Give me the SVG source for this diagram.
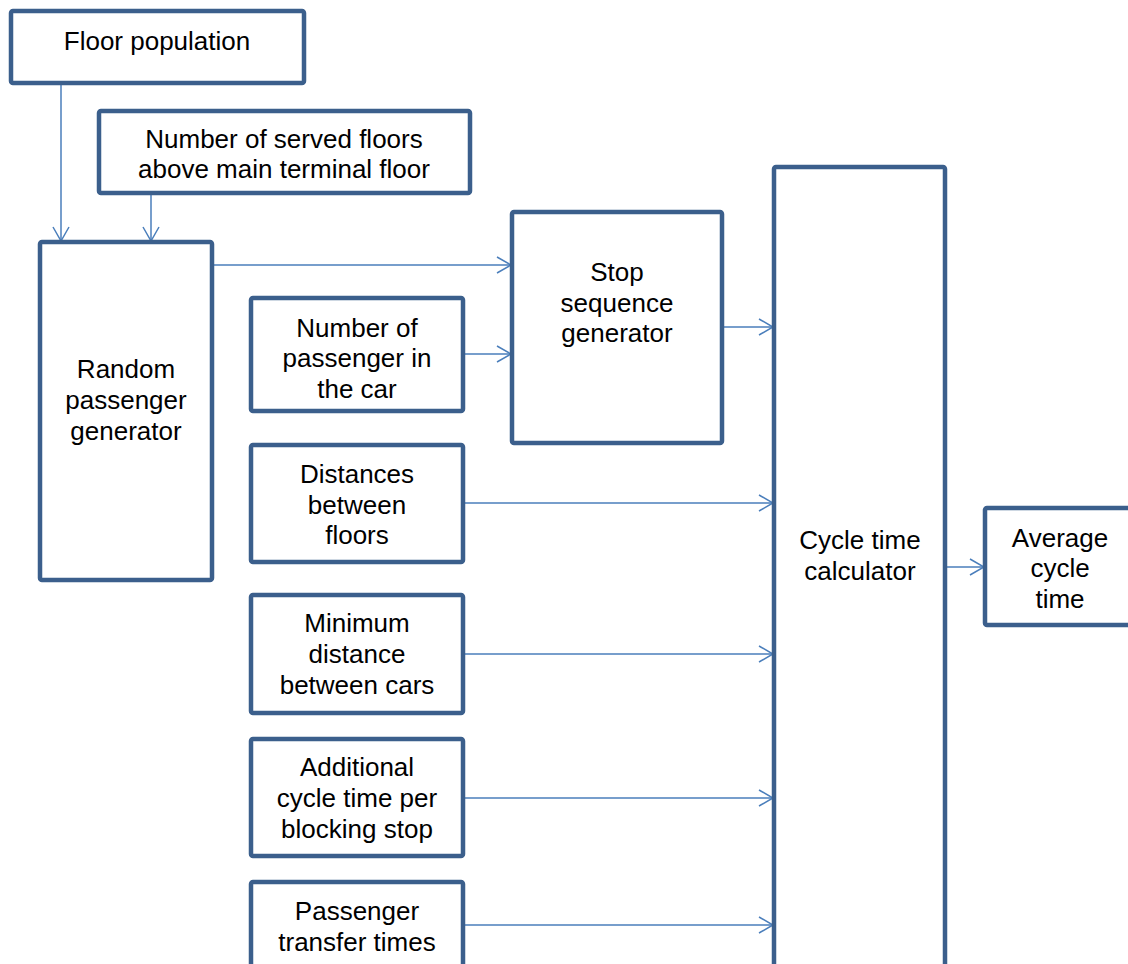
<svg xmlns="http://www.w3.org/2000/svg" width="1128" height="964" viewBox="0 0 1128 964">
<style>
.box{fill:#fff;stroke:#3b5f8c;stroke-width:4.5}
.t{font-family:"Liberation Sans",Arial,sans-serif;font-size:26px;fill:#000;text-anchor:middle}
.c{stroke:#4a7ebb;stroke-width:1.5;fill:none}
</style>
<defs>
<marker id="a" markerWidth="16" markerHeight="18" refX="15" refY="9" orient="auto" markerUnits="userSpaceOnUse">
<path d="M1,1 L15,9 L1,17" fill="none" stroke="#4a7ebb" stroke-width="1.5"/>
</marker>
</defs>
<g id="connectors">
<line class="c" x1="61" y1="83" x2="61" y2="241" marker-end="url(#a)"/>
<line class="c" x1="151" y1="194" x2="151" y2="241" marker-end="url(#a)"/>
<line class="c" x1="212" y1="265" x2="511" y2="265" marker-end="url(#a)"/>
<line class="c" x1="463" y1="354" x2="511" y2="354" marker-end="url(#a)"/>
<line class="c" x1="722" y1="327" x2="773" y2="327" marker-end="url(#a)"/>
<line class="c" x1="463" y1="503" x2="773" y2="503" marker-end="url(#a)"/>
<line class="c" x1="463" y1="654" x2="773" y2="654" marker-end="url(#a)"/>
<line class="c" x1="463" y1="798" x2="773" y2="798" marker-end="url(#a)"/>
<line class="c" x1="463" y1="925" x2="773" y2="925" marker-end="url(#a)"/>
<line class="c" x1="945" y1="567" x2="984" y2="567" marker-end="url(#a)"/>
</g>
<g id="floor-population">
<rect class="box" x="11" y="11" width="293" height="72" rx="2"/>
<text class="t" x="157" y="50">Floor population</text>
</g>
<g id="served-floors">
<rect class="box" x="99" y="111" width="371" height="82" rx="2"/>
<text class="t" x="284" y="148">Number of served floors</text>
<text class="t" x="284" y="178">above main terminal floor</text>
</g>
<g id="random-passenger-generator">
<rect class="box" x="40" y="242" width="172" height="338" rx="2"/>
<text class="t" x="126" y="378">Random</text>
<text class="t" x="126" y="409">passenger</text>
<text class="t" x="126" y="440">generator</text>
</g>
<g id="stop-sequence-generator">
<rect class="box" x="512" y="212" width="210" height="231" rx="2"/>
<text class="t" x="617" y="281">Stop</text>
<text class="t" x="617" y="312">sequence</text>
<text class="t" x="617" y="342">generator</text>
</g>
<g id="passengers-in-car">
<rect class="box" x="251" y="298" width="212" height="113" rx="2"/>
<text class="t" x="357" y="337">Number of</text>
<text class="t" x="357" y="367">passenger in</text>
<text class="t" x="357" y="398">the car</text>
</g>
<g id="distances">
<rect class="box" x="251" y="445" width="212" height="117" rx="2"/>
<text class="t" x="357" y="483">Distances</text>
<text class="t" x="357" y="514">between</text>
<text class="t" x="357" y="544">floors</text>
</g>
<g id="minimum-distance">
<rect class="box" x="251" y="595" width="212" height="118" rx="2"/>
<text class="t" x="357" y="632">Minimum</text>
<text class="t" x="357" y="663">distance</text>
<text class="t" x="357" y="694">between cars</text>
</g>
<g id="additional-cycle-time">
<rect class="box" x="251" y="739" width="212" height="117" rx="2"/>
<text class="t" x="357" y="776">Additional</text>
<text class="t" x="357" y="807">cycle time per</text>
<text class="t" x="357" y="838">blocking stop</text>
</g>
<g id="passenger-transfer-times">
<rect class="box" x="251" y="882" width="212" height="110" rx="2"/>
<text class="t" x="357" y="920">Passenger</text>
<text class="t" x="357" y="951">transfer times</text>
</g>
<g id="cycle-time-calculator">
<rect class="box" x="774" y="167" width="171" height="830" rx="2"/>
<text class="t" x="860" y="549">Cycle time</text>
<text class="t" x="860" y="580">calculator</text>
</g>
<g id="average-cycle-time">
<rect class="box" x="985" y="508" width="170" height="117" rx="2"/>
<text class="t" x="1060" y="547">Average</text>
<text class="t" x="1060" y="577">cycle</text>
<text class="t" x="1060" y="608">time</text>
</g>
</svg>
